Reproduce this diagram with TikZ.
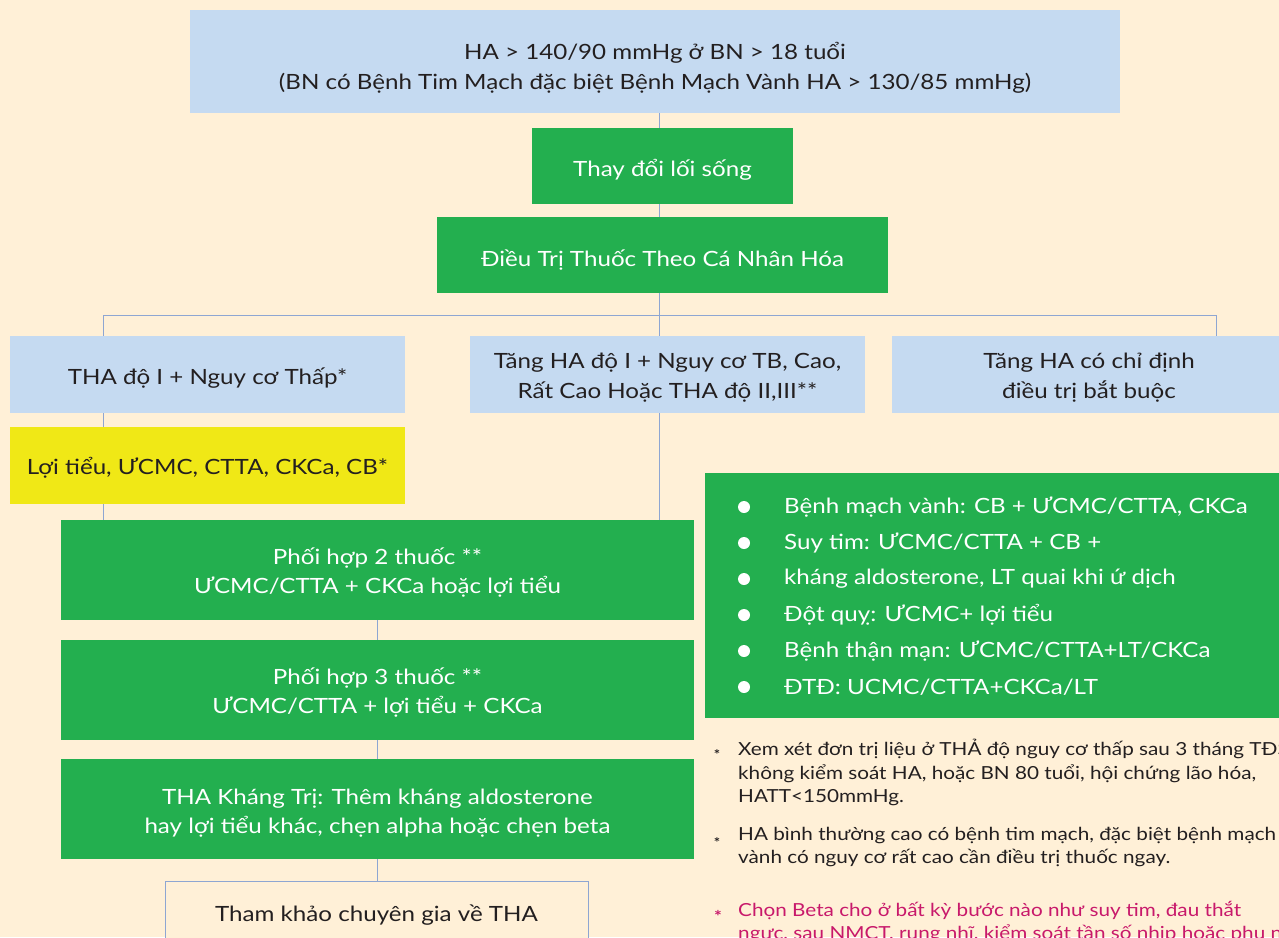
\documentclass[tikz,border=0pt]{standalone}
\usepackage{fontspec}
\setmainfont{Lato}[FakeStretch=1.15]
\usetikzlibrary{calc}
\definecolor{bgc}{HTML}{FFF0D7}
\definecolor{lblue}{HTML}{C5DAF1}
\definecolor{gbox}{HTML}{23AF4F}
\definecolor{ybox}{HTML}{F0E816}
\definecolor{linec}{HTML}{8EA6D2}
\definecolor{darkt}{HTML}{231F20}
\definecolor{magt}{HTML}{C8196B}
\newcommand{\tallstrut}[1]{\rule{0pt}{#1pt}}
\tikzset{
  basebox/.style={rectangle, inner sep=0pt, align=center, font=\fontsize{21}{29.5}\selectfont},
  bluebox/.style={basebox, fill=lblue, text=darkt},
  greenbox/.style={basebox, fill=gbox, text=white},
  yellowbox/.style={basebox, fill=ybox, text=darkt},
  outlinebox/.style={basebox, draw=linec, line width=0.8pt, fill=bgc, text=darkt},
  conn/.style={draw=linec, line width=0.8pt},
  bullettext/.style={anchor=west, inner sep=0pt, text=white, font=\fontsize{21}{26}\selectfont},
  bulletdot/.style={circle, fill=white, inner sep=0pt, minimum size=12pt},
  notetext/.style={anchor=north west, inner sep=0pt, align=left, font=\fontsize{18}{23.5}\selectfont},
  notemark/.style={anchor=center, inner sep=0pt, font=\bfseries\fontsize{13}{13}\selectfont},
}
\begin{document}
\begin{tikzpicture}[x=1pt,y=-1pt]
\useasboundingbox (0,0) rectangle (1279,937);
\clip (0,0) rectangle (1279,937);
\fill[bgc] (0,0) rectangle (1279,937);
\coordinate (spine) at (659,0);
\coordinate (left) at (103,0);
\coordinate (right) at (1216,0);
\coordinate (comb) at (377,0);

% top boxes
\node[bluebox, minimum width=930pt, minimum height=103pt] (top) at (655,61.5)
  {\tallstrut{29.5}HA > 140/90 mmHg ở BN > 18 tuổi\\(BN có Bệnh Tim Mạch đặc biệt Bệnh Mạch Vành HA > 130/85 mmHg)};
\node[greenbox, minimum width=261pt, minimum height=76pt] (life) at (662.5,166) {\tallstrut{25.5}Thay đổi lối sống};
\node[greenbox, minimum width=451pt, minimum height=76pt] (indiv) at (662.5,255) {\tallstrut{27.5}Điều Trị Thuốc Theo Cá Nhân Hóa};

% second level
\node[bluebox, minimum width=395pt, minimum height=77pt] (low) at (207.5,374.5) {\tallstrut{23.5}THA độ I + Nguy cơ Thấp*};
\node[bluebox, minimum width=395pt, minimum height=77pt] (mid) at (667.5,374.5) {\tallstrut{22}Tăng HA độ I + Nguy cơ TB, Cao,\\Rất Cao Hoặc THA độ II,III**};
\node[bluebox, minimum width=394pt, minimum height=77pt] (comp) at (1089,374.5) {\tallstrut{22}Tăng HA có chỉ định\\điều trị bắt buộc};

\node[yellowbox, minimum width=395pt, minimum height=77pt] (mono) at (207.5,465.5) {\tallstrut{21.5}Lợi tiểu, ƯCMC, CTTA, CKCa, CB*};

\node[greenbox, minimum width=633pt, minimum height=100pt] (two) at (377.5,570) {\tallstrut{22}Phối hợp 2 thuốc **\\ƯCMC/CTTA + CKCa hoặc lợi tiểu};
\node[greenbox, minimum width=633pt, minimum height=100pt] (three) at (377.5,690) {\tallstrut{22}Phối hợp 3 thuốc **\\ƯCMC/CTTA + lợi tiểu + CKCa};
\node[greenbox, minimum width=633pt, minimum height=100pt] (resist) at (377.5,809) {\tallstrut{24}THA Kháng Trị: Thêm kháng aldosterone\\hay lợi tiểu khác, chẹn alpha hoặc chẹn beta};
\node[outlinebox, minimum width=423pt, minimum height=62pt] (expert) at (376.5,912) {\tallstrut{23.5}Tham khảo chuyên gia về THA};

% connectors
\draw[conn] (top.south -| spine) -- (life.north -| spine);
\draw[conn] (life.south -| spine) -- (indiv.north -| spine);
\coordinate (bus) at (659,315);
\draw[conn] (indiv.south -| spine) -- (bus);
\draw[conn] (low.north -| left) -- (bus -| left) -- (bus -| right) -- (comp.north -| right);
\draw[conn] (bus) -- (mid.north -| spine);
\draw[conn] (low.south -| left) -- (mono.north -| left);
\draw[conn] (mono.south -| left) -- (two.north -| left);
\draw[conn] (mid.south -| spine) -- (two.north -| spine);
\draw[conn] (two.south -| comb) -- (three.north -| comb);
\draw[conn] (three.south -| comb) -- (resist.north -| comb);
\draw[conn] (resist.south -| comb) -- (expert.north -| comb);

% indications box
\node[rectangle, fill=gbox, minimum width=590pt, minimum height=245pt, inner sep=0pt] (ind) at (1000,595.5) {};
\foreach \i/\t in {1/{Bệnh mạch vành: CB + ƯCMC/CTTA, CKCa},
                   2/{Suy tim: ƯCMC/CTTA + CB +},
                   3/{kháng aldosterone, LT quai khi ứ dịch},
                   4/{Đột quỵ: ƯCMC+ lợi tiểu},
                   5/{Bệnh thận mạn: ƯCMC/CTTA+LT/CKCa},
                   6/{ĐTĐ: UCMC/CTTA+CKCa/LT}}{
  \node[bulletdot] (d\i) at (744,{471+36*\i}) {};
  \node[bullettext] (b\i) at (784,{471+36*\i}) {\t};
}

% notes
\node[notemark, text=darkt] (m1) at (717,755) {*};
\node[notetext, text=darkt] (n1) at (738,739)
  {Xem xét đơn trị liệu ở THẢ độ nguy cơ thấp sau 3 tháng TĐS\\không kiểm soát HA, hoặc BN 80 tuổi, hội chứng lão hóa,\\HATT<150mmHg.};
\node[notemark, text=darkt] (m2) at (717,843) {*};
\node[notetext, text=darkt] (n2) at (738,827)
  {HA bình thường cao có bệnh tim mạch, đặc biệt bệnh mạch\\vành có nguy cơ rất cao cần điều trị thuốc ngay.};
\node[notemark, text=magt, font=\bfseries\fontsize{16}{16}\selectfont] (m3) at (718,916) {*};
\node[notetext, text=magt] (n3) at (738,901)
  {Chọn Beta cho ở bất kỳ bước nào như suy tim, đau thắt\\ngực, sau NMCT, rung nhĩ, kiểm soát tần số nhịp hoặc phụ nữ};
\end{tikzpicture}
\end{document}
